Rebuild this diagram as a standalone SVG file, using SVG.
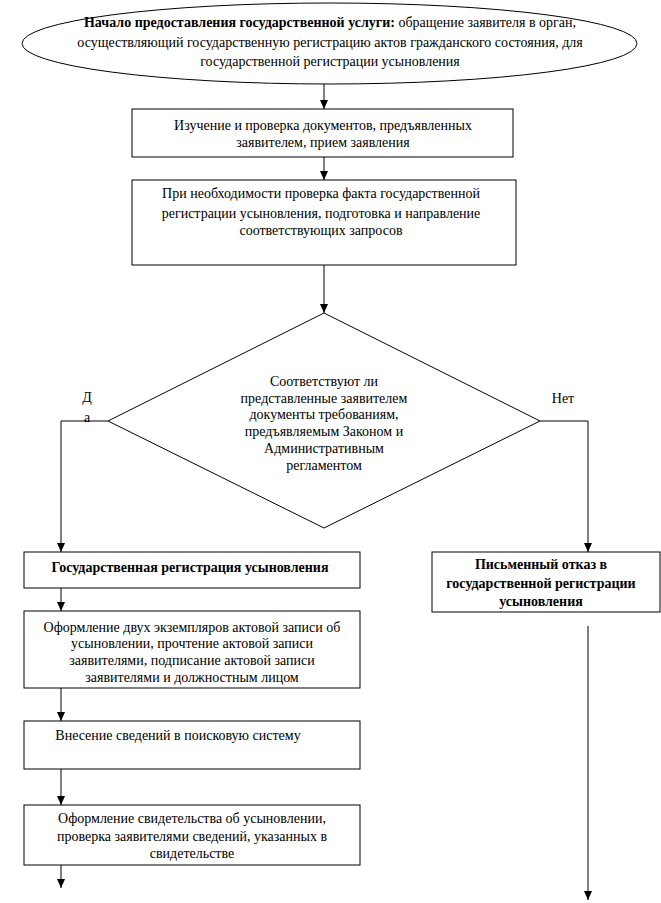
<svg xmlns="http://www.w3.org/2000/svg" width="661" height="903" viewBox="0 0 661 903">
<style>
.s{fill:#fff;stroke:#000;stroke-width:1}
.t{font-family:"Liberation Serif","Times New Roman",serif;font-size:14px;fill:#000;text-anchor:middle}
.b{font-weight:bold}
.c{fill:none;stroke:#000;stroke-width:1}
</style>
<defs>
<marker id="ah" markerWidth="9" markerHeight="8" refX="9" refY="4" orient="auto" markerUnits="userSpaceOnUse" viewBox="0 0 9 8">
<path d="M0,0 L9,4 L0,8 Z" fill="#000"/>
</marker>
</defs>
<rect width="661" height="903" fill="#fff"/>
<g id="connectors">
<line class="c" x1="324" y1="84" x2="324" y2="109" marker-end="url(#ah)"/>
<line class="c" x1="324" y1="157" x2="324" y2="180" marker-end="url(#ah)"/>
<line class="c" x1="324" y1="265" x2="324" y2="313" marker-end="url(#ah)"/>
<polyline class="c" points="108,421 61,421 61,552" marker-end="url(#ah)"/>
<polyline class="c" points="540,421 588,421 588,552" marker-end="url(#ah)"/>
<line class="c" x1="61" y1="588" x2="61" y2="611" marker-end="url(#ah)"/>
<line class="c" x1="61" y1="688" x2="61" y2="721" marker-end="url(#ah)"/>
<line class="c" x1="61" y1="769" x2="61" y2="805" marker-end="url(#ah)"/>
<line class="c" x1="61" y1="865" x2="61" y2="888" marker-end="url(#ah)"/>
<line class="c" x1="588" y1="626" x2="588" y2="900" marker-end="url(#ah)"/>
<text class="t" x="87" y="402">Д</text>
<text class="t" x="87" y="422">а</text>
<text class="t" x="563" y="403">Нет</text>
</g>
<g id="start">
<ellipse class="s" cx="329.5" cy="43.5" rx="307.5" ry="40.5"/>
<text class="t" x="330" y="27"><tspan class="b">Начало предоставления государственной услуги:</tspan> обращение заявителя в орган,</text>
<text class="t" x="330" y="47">осуществляющий государственную регистрацию актов гражданского состояния, для</text>
<text class="t" x="330" y="66">государственной регистрации усыновления</text>
</g>
<g id="check">
<rect class="s" x="132" y="109" width="381" height="48"/>
<text class="t" x="323" y="130">Изучение и проверка документов, предъявленных</text>
<text class="t" x="323" y="147">заявителем, прием заявления</text>
</g>
<g id="verify">
<rect class="s" x="132" y="180" width="384" height="85"/>
<text class="t" x="321" y="198">При необходимости проверка факта государственной</text>
<text class="t" x="321" y="218">регистрации усыновления, подготовка и направление</text>
<text class="t" x="321" y="235">соответствующих запросов</text>
</g>
<g id="decision">
<polygon class="s" points="324,313 540,421 324,528 108,421"/>
<text class="t" x="324" y="386">Соответствуют ли</text>
<text class="t" x="324" y="403">представленные заявителем</text>
<text class="t" x="324" y="419">документы требованиям,</text>
<text class="t" x="324" y="436">предъявляемым Законом и</text>
<text class="t" x="324" y="453">Административным</text>
<text class="t" x="324" y="470">регламентом</text>
</g>
<g id="registration">
<rect class="s" x="24" y="552" width="336" height="36"/>
<text class="t b" x="190" y="572">Государственная регистрация усыновления</text>
</g>
<g id="refusal">
<rect class="s" x="432" y="552" width="228" height="60"/>
<text class="t b" x="541" y="569">Письменный отказ в</text>
<text class="t b" x="541" y="588">государственной регистрации</text>
<text class="t b" x="541" y="606">усыновления</text>
</g>
<g id="record">
<rect class="s" x="24" y="611" width="336" height="77"/>
<text class="t" x="192" y="632">Оформление двух экземпляров актовой записи об</text>
<text class="t" x="192" y="648">усыновлении, прочтение актовой записи</text>
<text class="t" x="192" y="665">заявителями, подписание актовой записи</text>
<text class="t" x="192" y="682">заявителями и должностным лицом</text>
</g>
<g id="search">
<rect class="s" x="24" y="721" width="336" height="48"/>
<text class="t" x="178" y="740">Внесение сведений в поисковую систему</text>
</g>
<g id="certificate">
<rect class="s" x="24" y="805" width="336" height="60"/>
<text class="t" x="192" y="823">Оформление свидетельства об усыновлении,</text>
<text class="t" x="192" y="841">проверка заявителями сведений, указанных в</text>
<text class="t" x="192" y="858">свидетельстве</text>
</g>
</svg>
